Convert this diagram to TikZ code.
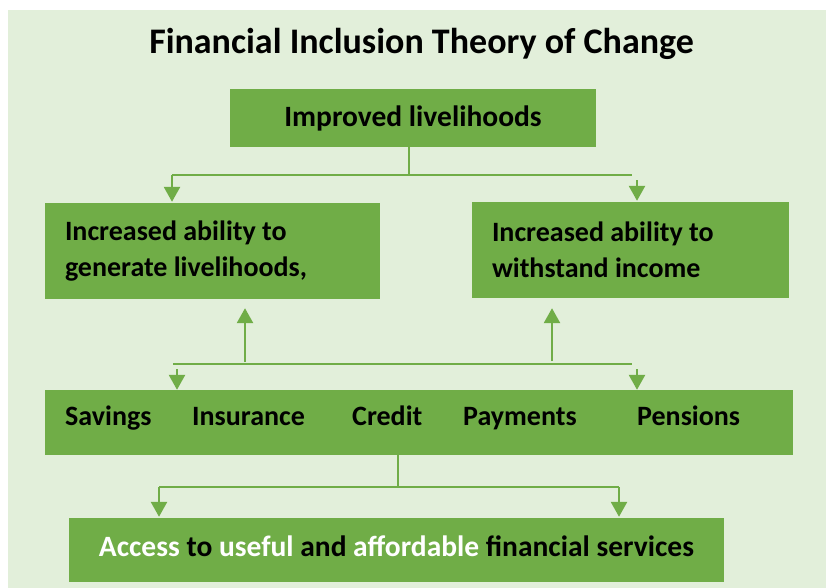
\documentclass[tikz,border=0pt]{standalone}
\usepackage{fontspec}
\setmainfont{Carlito}
\usetikzlibrary{arrows.meta}
\definecolor{leaf}{HTML}{70AD47}
\definecolor{mint}{HTML}{E2EFDA}

\begin{document}
\begin{tikzpicture}[x=1pt,y=-1pt,
  box/.style={fill=leaf, draw=none, inner sep=0pt,
    font=\bfseries\fontsize{29.5}{36}\selectfont},
  tbox/.style={box, align=flush left, inner xsep=20pt,
    font=\bfseries\fontsize{28}{36}\selectfont},
  arrowline/.style={draw=leaf, line width=2.6pt,
    -{Triangle[length=15pt,width=16pt]}},
  trunk/.style={draw=leaf, line width=2.4pt},
  bar/.style={draw=leaf, line width=1.6pt},
  item/.style={anchor=base west, inner sep=0pt,
    font=\bfseries\fontsize{28}{34}\selectfont}]

\useasboundingbox (0,0) rectangle (826,588);
\fill[white] (0,0) rectangle (826,588);
\fill[mint] (8,10) rectangle (826,588);

% title
\node[anchor=base, inner sep=0pt, font=\bfseries\fontsize{36}{42}\selectfont]
  (title) at (421.5,54) {Financial Inclusion Theory of Change};

% boxes
\node[box, minimum width=366pt, minimum height=58pt] (top) at (413,118)
  {Improved livelihoods};
\node[tbox, text width=295pt, minimum height=96pt] (left) at (212.5,251)
  {Increased ability to\\generate livelihoods,};
\node[tbox, text width=277pt, minimum height=96pt] (right) at (630.5,250)
  {Increased ability to\\withstand income};
\node[box, minimum width=748pt, minimum height=65pt] (mid) at (419,422.5) {};
\node[box, minimum width=655pt, minimum height=64pt] (bottom) at (396.5,550)
  {\raisebox{7pt}{\color{white}Access \color{black}to \color{white}useful
   \color{black}and \color{white}affordable \color{black}financial services}};

% services listed in the middle box
\node[item] (savings)   at (65,425)  {Savings};
\node[item] (insurance) at (192,425) {Insurance};
\node[item] (credit)    at (352,425) {Credit};
\node[item] (payments)  at (463,425) {Payments};
\node[item] (pensions)  at (637,425) {Pensions};

% top split
\coordinate (hubA) at (409,175);
\coordinate (barAL) at (172,175);
\coordinate (barAR) at (632,175);
\coordinate (dropAR) at (637,180);
\draw[trunk] (top.south -| hubA) -- (hubA);
\draw[bar] (barAL) -- (barAR);
\draw[arrowline] (barAL) -- ([yshift=1pt]barAL |- left.north);
\draw[arrowline] (dropAR) -- ([yshift=1pt]dropAR |- right.north);

% middle split
\coordinate (barBL) at (173,364);
\coordinate (barBR) at (632,364);
\coordinate (riseL) at (245,362);
\coordinate (riseR) at (552,361);
\coordinate (dropBL) at (177,369);
\coordinate (dropBR) at (637,369);
\draw[bar] (barBL) -- (barBR);
\draw[arrowline] (riseL) -- ([yshift=-9pt]riseL |- left.south);
\draw[arrowline] (riseR) -- ([yshift=-10pt]riseR |- right.south);
\draw[arrowline] (dropBL) -- (dropBL |- mid.north);
\draw[arrowline] (dropBR) -- (dropBR |- mid.north);

% bottom split
\coordinate (hubC) at (398,487);
\coordinate (barCL) at (159,487);
\coordinate (barCR) at (619,487);
\draw[trunk] (mid.south -| hubC) -- (hubC);
\draw[bar] (barCL) -- (barCR);
\draw[arrowline] (barCL) -- ([yshift=1pt]barCL |- bottom.north);
\draw[arrowline] (barCR) -- ([yshift=1pt]barCR |- bottom.north);
\end{tikzpicture}
\end{document}
